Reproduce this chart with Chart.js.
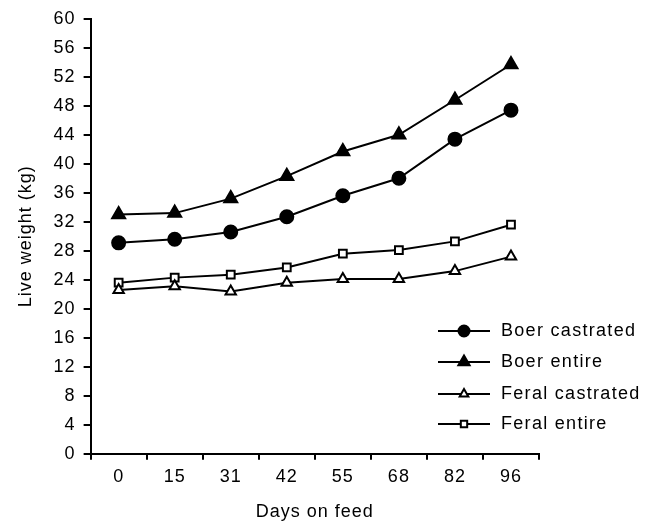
<!DOCTYPE html>
<html lang="en">
<head>
    <meta charset="UTF-8">
    <title>Live weight vs days on feed</title>
    <script src="https://cdn.jsdelivr.net/npm/chart.js@4"></script>
    <style>
        body { margin: 0; background: #fff; }
        #wrap { width: 645px; height: 523px; }
    </style>
</head>
<body>
    <div id="wrap"><canvas id="chart"></canvas></div>

    <script>
        // data
        const days = ['0', '15', '31', '42', '55', '68', '82', '96'];
        const boerCastrated = [29.1, 29.6, 30.6, 32.7, 35.6, 38.0, 43.4, 47.4];
        const boerEntire = [33.0, 33.2, 35.2, 38.3, 41.7, 44.0, 48.8, 53.7];
        const feralCastrated = [22.6, 23.1, 22.4, 23.6, 24.1, 24.1, 25.2, 27.2];
        const feralEntire = [23.6, 24.3, 24.7, 25.7, 27.6, 28.1, 29.3, 31.6];

        const font = { family: 'Liberation Sans, Arial, sans-serif', size: 18 };

        function series(label, data, style, filled, radius) {
            return {
                label: label,
                data: data,
                borderColor: '#000',
                borderWidth: 2,
                pointStyle: style,
                pointRadius: radius,
                pointHoverRadius: radius,
                pointBorderWidth: 2,
                pointBorderColor: '#000',
                pointBackgroundColor: filled ? '#000' : '#fff',
                fill: false,
                tension: 0
            };
        }

        // the original type is slightly letter-spaced
        const spacing = {
            id: 'spacing',
            beforeUpdate(chart) { chart.ctx.letterSpacing = '1px'; },
            beforeDraw(chart) { chart.ctx.letterSpacing = '1px'; }
        };

        // legend drawn inside the plot, line - marker - line like the original
        const insideLegend = {
            id: 'insideLegend',
            afterDraw(chart) {
                const c = chart.ctx;
                const rows = [331, 362, 394, 424];
                const x0 = 438, x1 = 490;
                c.save();
                chart.data.datasets.forEach((ds, i) => {
                    const y = rows[i];
                    c.strokeStyle = '#000';
                    c.lineWidth = 2;
                    c.beginPath();
                    c.moveTo(x0, y);
                    c.lineTo(x1, y);
                    c.stroke();
                    c.fillStyle = ds.pointBackgroundColor;
                    Chart.helpers.drawPoint(c, {
                        pointStyle: ds.pointStyle,
                        radius: ds.pointRadius - 1,
                        borderWidth: 2,
                        rotation: 0
                    }, (x0 + x1) / 2, y);
                    c.fillStyle = '#000';
                    c.letterSpacing = '1.3px';
                    c.font = font.size + 'px ' + font.family;
                    c.textBaseline = 'middle';
                    c.textAlign = 'left';
                    c.fillText(ds.label, 501, y);
                });
                c.restore();
            }
        };

        new Chart(document.getElementById('chart'), {
            type: 'line',
            data: {
                labels: days,
                datasets: [
                    series('Boer castrated', boerCastrated, 'circle', true, 6.5),
                    series('Boer entire', boerEntire, 'triangle', true, 7.5),
                    series('Feral castrated', feralCastrated, 'triangle', false, 6),
                    series('Feral entire', feralEntire, 'rect', false, 5.5)
                ]
            },
            options: {
                responsive: true,
                maintainAspectRatio: false,
                animation: false,
                layout: { padding: { top: 8, right: 106, left: 15, bottom: 0 } },
                plugins: {
                    legend: { display: false },
                    tooltip: { enabled: false }
                },
                scales: {
                    x: {
                        offset: true,
                        grid: {
                            offset: true,
                            drawOnChartArea: false,
                            color: '#000',
                            lineWidth: 2,
                            tickLength: 6
                        },
                        border: { color: '#000', width: 2 },
                        ticks: { color: '#000', font: font, padding: 6 },
                        title: {
                            display: true,
                            text: 'Days on feed',
                            color: '#000',
                            font: font,
                            padding: { top: 8, bottom: 0 }
                        }
                    },
                    y: {
                        min: 0,
                        max: 60,
                        grid: {
                            drawOnChartArea: false,
                            color: '#000',
                            lineWidth: 2,
                            tickLength: 7
                        },
                        border: { color: '#000', width: 2 },
                        ticks: { stepSize: 4, color: '#000', font: font, padding: 8 },
                        title: {
                            display: true,
                            text: 'Live weight (kg)',
                            color: '#000',
                            font: font,
                            padding: { top: 0, bottom: 9 }
                        }
                    }
                }
            },
            plugins: [spacing, insideLegend]
        });
    </script>
</body>
</html>
